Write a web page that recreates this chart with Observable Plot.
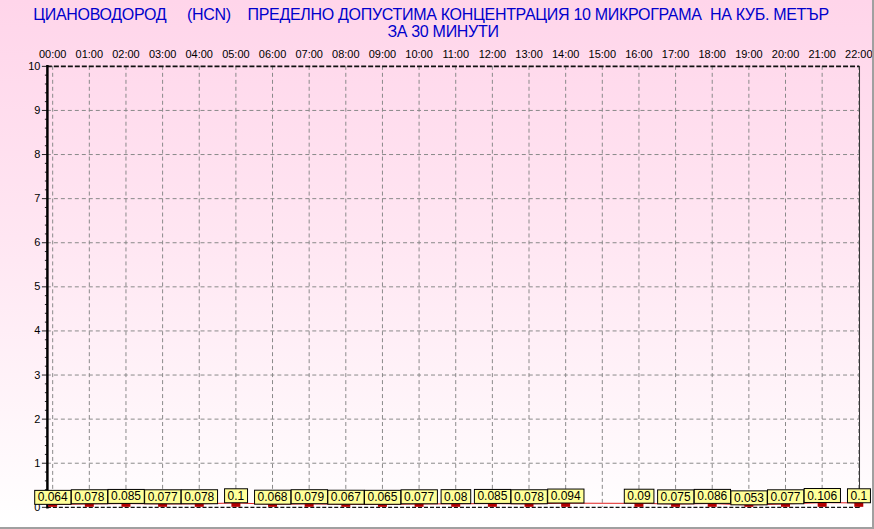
<!DOCTYPE html>
<html>
<head>
<meta charset="utf-8">
<script src="https://cdn.jsdelivr.net/npm/d3@7"></script>
<script src="https://cdn.jsdelivr.net/npm/@observablehq/plot@0.6"></script>
<style>
  html, body { margin: 0; padding: 0; }
  body { width: 874px; height: 529px; overflow: hidden; }
  #wrap {
    position: relative; width: 872px; height: 527px;
    background: linear-gradient(to bottom, #ffd5ea 0%, #ffe6f2 45%, #ffffff 100%);
    border-right: 2px solid #a0a0a0; border-bottom: 2px solid #a0a0a0;
    font-family: "Liberation Sans", Arial, sans-serif;
  }
  .title {
    position: absolute; top: 7px; left: 0; text-align: center; white-space: pre;
    color: #0000cc; font-size: 16px; line-height: 15px; letter-spacing: -0.3px;
  }
  svg { position: absolute; left: 0; top: 0; }
</style>
</head>
<body>
<div id="wrap">
  <div class="title" style="width:862px">ЦИАНОВОДОРОД     (HCN)    ПРЕДЕЛНО ДОПУСТИМА КОНЦЕНТРАЦИЯ 10 МИКРОГРАМА  НА КУБ. МЕТЪР</div>
  <div class="title" style="width:886px; top:24px">ЗА 30 МИНУТИ</div>
</div>
<script>
const hours = [0,1,2,3,4,5,6,7,8,9,10,11,12,13,14,15,16,17,18,19,20,21,22];
const hourLabels = ["00:00","01:00","02:00","03:00","04:00","05:00","06:00","07:00","08:00","09:00","10:00","11:00","12:00","13:00","14:00","15:00","16:00","17:00","18:00","19:00","20:00","21:00","22:00"];
const values = [0.064,0.078,0.085,0.077,0.078,0.1,0.068,0.079,0.067,0.065,0.077,0.08,0.085,0.078,0.094,null,0.09,0.075,0.086,0.053,0.077,0.106,0.1];
const yTicks = [0,1,2,3,4,5,6,7,8,9,10];
const yGrid = [1,2,3,4,5,6,7,8,9];
const yMinor = d3.range(0, 50).map(i => i / 5).filter(v => v % 1 !== 0);

const data = hours.map((h, i) => ({h, v: values[i]})).filter(d => d.v != null);

const chart = Plot.plot({
  width: 874, height: 529,
  marginTop: 66, marginLeft: 47, marginRight: 13, marginBottom: 21,
  style: {background: "transparent", fontFamily: "'Liberation Sans', Arial, sans-serif", fontSize: "11px", color: "black"},
  x: {domain: [-0.144, 22.02], label: null},
  y: {domain: [0, 10], label: null},
  marks: [
    Plot.gridX(hours, {stroke: "#8a8a8a", strokeOpacity: 1, strokeDasharray: "4,3"}),
    Plot.gridY(yGrid, {stroke: "#8a8a8a", strokeOpacity: 1, strokeDasharray: "4,3"}),
    Plot.ruleY([10], {stroke: "#111", strokeWidth: 1.6, strokeDasharray: "5,2"}),
    Plot.ruleY([0], {stroke: "#111", strokeWidth: 1.2, strokeDasharray: "4,2"}),
    Plot.frame({anchor: "right", stroke: "#333"}),
    Plot.axisX(hours, {anchor: "top", label: null, tickSize: 0, tickPadding: 8, tickFormat: d => hourLabels[d], fontSize: 11}),
    Plot.axisY(yMinor, {anchor: "left", label: null, tickSize: 2, tickFormat: () => "", stroke: "#222"}),
    Plot.axisY(yTicks, {anchor: "left", label: null, tickSize: 5, tickPadding: 2, fontSize: 11, stroke: "#222"}),
    Plot.frame({anchor: "left", stroke: "black", strokeWidth: 2.5}),
    Plot.line(data, {x: "h", y: "v", stroke: "#e02020", strokeWidth: 1}),
    Plot.ruleX(data, {x: "h", y1: 0, y2: "v", stroke: "#b40000", strokeWidth: 9}),
    Plot.text(data, {x: "h", y: "v", text: d => String(d.v), dy: -7, fontSize: 12, fill: "black"})
  ]
});

document.getElementById("wrap").appendChild(chart);

// Yellow boxes behind the value labels, sized from the rendered text
const textGroups = chart.querySelectorAll('g[aria-label="text"]');
textGroups.forEach(g => {
  g.querySelectorAll("text").forEach(t => {
    const bb = t.getBBox();
    const r = document.createElementNS("http://www.w3.org/2000/svg", "rect");
    const h = 14;
    r.setAttribute("x", bb.x - 3);
    r.setAttribute("y", bb.y + bb.height / 2 - h / 2);
    r.setAttribute("width", bb.width + 6);
    r.setAttribute("height", h);
    r.setAttribute("fill", "#ffff99");
    r.setAttribute("stroke", "black");
    r.setAttribute("stroke-width", "1");
    const tr = t.getAttribute("transform");
    if (tr) r.setAttribute("transform", tr);
    g.insertBefore(r, t);
  });
});
</script>
</body>
</html>
